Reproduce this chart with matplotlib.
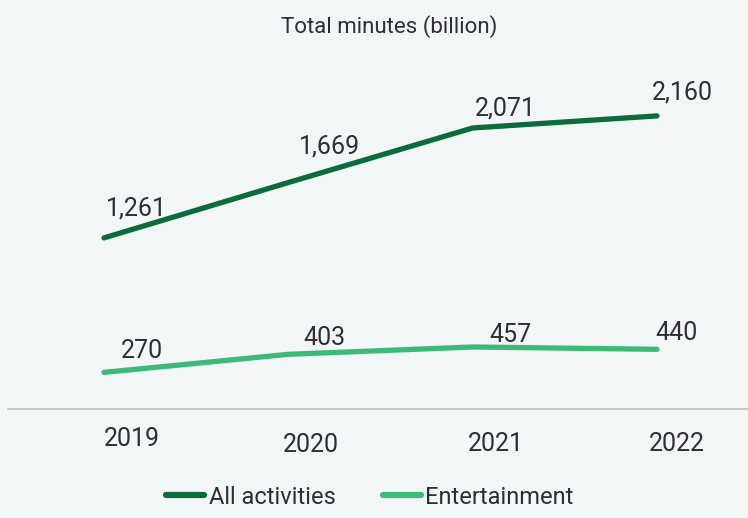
import matplotlib
matplotlib.use("Agg")
import matplotlib.pyplot as plt
from matplotlib.transforms import offset_copy
from matplotlib.lines import Line2D

years = ["2019", "2020", "2021", "2022"]
all_activities = [1261, 1669, 2071, 2160]
entertainment = [270, 403, 457, 440]
series_names = ["All activities", "Entertainment"]
title = "Total minutes (billion)"

bg = "#f3f6f7"
dark = "#0b6b3a"
light = "#3dba78"
txt = "#2e2e38"

plt.rcParams['font.family'] = ['Roboto', 'DejaVu Sans']

W, H = 748, 518
fig = plt.figure(figsize=(W / 100, H / 100), dpi=100, facecolor=bg)
ax = fig.add_axes([8 / W, (H - 409) / H, 1 - 8 / W, (409 - 60) / H], facecolor=bg)

x = list(range(len(years)))
ax.plot(x, all_activities, color=dark, lw=3.8, solid_capstyle='round')
ax.plot(x, entertainment, color=light, lw=3.8, solid_capstyle='round')

ax.set_xlim(-0.521, 3.494)
ax.set_ylim(0, 2572)

for s in ["top", "right", "left"]:
    ax.spines[s].set_visible(False)
ax.spines["bottom"].set_color("#b9c0c6")
ax.spines["bottom"].set_linewidth(1.2)
ax.set_yticks([])
ax.set_xticks([])

# value labels (label offsets in pixels: centre x, baseline above point)
all_dx = [32, 41, 33, 25]
all_dy = [22, 29, 12, 16]
ent_dx = [38, 36, 38, 20]
ent_dy = [14, 9, 5, 9]
for vals, dxs, dys in ((all_activities, all_dx, all_dy), (entertainment, ent_dx, ent_dy)):
    for i, v in enumerate(vals):
        tr = offset_copy(ax.transData, fig=fig, x=dxs[i], y=dys[i], units='dots')
        ax.text(i, v, f"{v:,}", transform=tr, ha='center', va='baseline',
                fontsize=18, color=txt)

# x tick labels (shifted right of the points, 2019 slightly higher)
tick_dx = [28, 23, 23, 20]
tick_dy = [-37, -43, -42, -42]
for i, lab in enumerate(years):
    tr = offset_copy(ax.get_xaxis_transform(), fig=fig, x=tick_dx[i], y=tick_dy[i], units='dots')
    ax.text(i, 0, lab, transform=tr, ha='center', va='baseline', fontsize=18, color=txt)

fig.text(389 / W, 1 - 27 / H, title, ha='center', va='center', fontsize=16, color=txt)

handles = [Line2D([0], [0], color=dark, lw=4.5, solid_capstyle='round'),
           Line2D([0], [0], color=light, lw=4.5, solid_capstyle='round')]
leg = fig.legend(handles, series_names, loc='center', bbox_to_anchor=(370 / W, 1 - 497 / H),
                 ncol=2, frameon=False, fontsize=17, handlelength=1.6, handletextpad=0.2,
                 columnspacing=2.0, labelcolor=txt)

fig.savefig("out.png", dpi=100, facecolor=bg)
